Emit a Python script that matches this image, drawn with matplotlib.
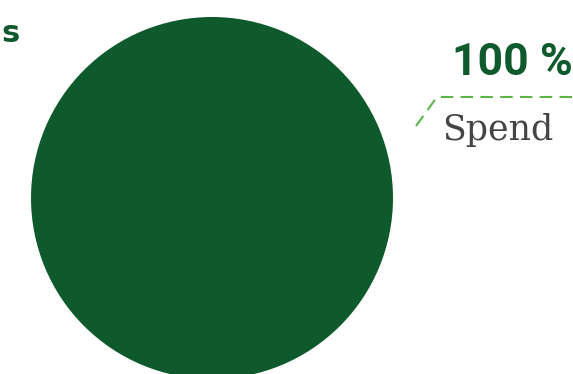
import matplotlib
matplotlib.use("Agg")
import matplotlib.pyplot as plt

# Data
categories = ["Spend"]
values = [100]
percent_labels = ["100 %"]
title_text = "s"

DARK_GREEN = "#0E5A2C"
LINE_GREEN = "#5DB548"
GRAY = "#444444"

W, H = 573, 374
fig = plt.figure(figsize=(W / 100, H / 100), dpi=100)
ax = fig.add_axes([0, 0, 1, 1])

ax.pie(values, colors=[DARK_GREEN], center=(212, 198), radius=181,
       startangle=90, counterclock=False, frame=True)
ax.set_xlim(0, W)
ax.set_ylim(H, 0)
ax.set_aspect("equal")
ax.axis("off")

# Title remnant
ax.text(1, 33, title_text, color=DARK_GREEN, fontsize=22, fontweight="bold",
        family="DejaVu Sans", ha="left", va="center")

# Leader line
ax.plot([416, 437, 573], [126, 97, 97], color=LINE_GREEN, lw=1.5,
        linestyle=(0, (6, 3.5)), solid_capstyle="butt")

# Labels
ax.text(573, 63, percent_labels[0], color=DARK_GREEN, fontsize=32,
        fontweight="bold", family="Roboto", ha="right", va="center")
ax.text(442, 130, categories[0], color=GRAY, fontsize=25,
        family="DejaVu Serif", ha="left", va="center")

fig.savefig("out.png", dpi=100)
